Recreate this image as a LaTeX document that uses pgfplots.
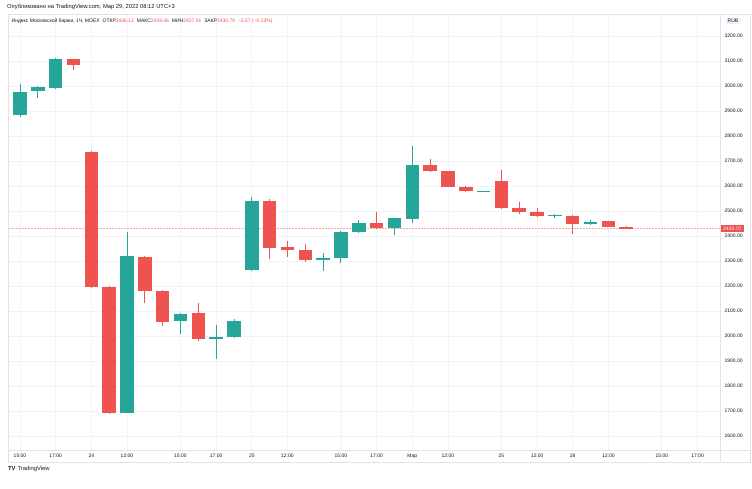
\documentclass[border=0pt]{standalone}
\usepackage{fontspec}
\setmainfont{Liberation Sans}
\usepackage{pgfplots}
\pgfplotsset{compat=1.18}
\usepackage{pgfplotstable}

\definecolor{tvgreen}{HTML}{26A69A}
\definecolor{tvred}{HTML}{EF5350}
\definecolor{tvgrid}{HTML}{F0F3FA}
\definecolor{tvborder}{HTML}{E0E3EB}
\definecolor{tvtext}{HTML}{131722}

\pgfplotstableread{
i o h l c
0 2885 3007 2875 2977
1 2979 3000 2951 2995
2 2992 3111 2988 3107
6 1693 2415 1690 2320
9 2059 2090 2008 2089
11 1991 2045 1909 1996
12 1995 2067 1993 2060
13 2263 2555 2260 2541
17 2303 2332 2259 2312
18 2311 2418 2291 2415
19 2415 2464 2413 2452
21 2431 2473 2405 2471
22 2467 2760 2451 2684
26 2578 2581 2577 2580
30 2480 2489 2473 2485
32 2447 2464 2445 2457
}\greendata

\pgfplotstableread{
i o h l c
3 3107 3109 3064 3084
4 2735 2740 2193 2197
5 2197 2199 1687 1693
7 2317 2320 2133 2181
8 2181 2183 2040 2057
10 2091 2132 1981 1987
14 2539 2547 2309 2352
15 2355 2380 2317 2343
16 2343 2368 2296 2303
20 2452 2495 2428 2431
23 2684 2708 2657 2659
24 2659 2661 2595 2597
25 2597 2599 2577 2580
27 2620 2664 2507 2513
28 2513 2536 2488 2495
29 2497 2513 2477 2480
31 2480 2482 2409 2447
33 2459 2461 2434 2436
34 2436.12 2438.46 2427.01 2430.70
}\reddata

\newcommand{\tvsmall}{\fontsize{5}{6}\selectfont}
\newcommand{\tvhead}{\fontsize{5.8}{7}\selectfont}

\begin{document}
\begin{tikzpicture}
\fill[white] (0pt,0pt) rectangle (752pt,489pt);
\begin{axis}[
  at={(8pt,39pt)}, anchor=south west, scale only axis,
  width=712pt, height=436pt,
  xmin=-0.673, xmax=39.26, ymin=1544, ymax=3288,
  axis line style={draw=none},
  major tick length=0pt,
  clip=false,
  grid=major,
  major grid style={tvgrid, line width=0.8pt},
  ytick={1600,1700,...,3200},
  yticklabel pos=right,
  yticklabel style={anchor=west, xshift=1pt, /pgf/number format/.cd, fixed, fixed zerofill, precision=2, 1000 sep={}},
  xtick={0,2,4,6,9,11,13,15,18,20,22,24,27,29,31,33,36,38},
  xticklabels={15:00,17:00,24,12:00,15:00,17:00,25,12:00,15:00,17:00,Мар,12:00,25,12:00,28,12:00,15:00,17:00},
  xticklabel style={yshift=-0.5pt},
  tick label style={font=\tvsmall, text=tvtext},
  /pgf/number format/assume math mode=true,
]
% price line
\addplot[tvred!50, densely dotted, line width=0.5pt] coordinates {(-0.673,2430.7) (39.26,2430.7)};
% wicks
\addplot[draw=none, mark=none, error bars/.cd, y dir=both, y explicit, error mark=none,
  error bar style={draw=tvgreen, line width=0.9pt}]
  table[x=i, y expr={(\thisrow{h}+\thisrow{l})/2}, y error expr={(\thisrow{h}-\thisrow{l})/2}] {\greendata};
\addplot[draw=none, mark=none, error bars/.cd, y dir=both, y explicit, error mark=none,
  error bar style={draw=tvred, line width=0.9pt}]
  table[x=i, y expr={(\thisrow{h}+\thisrow{l})/2}, y error expr={(\thisrow{h}-\thisrow{l})/2}] {\reddata};
% bodies
\addplot[draw=none, mark=none, error bars/.cd, y dir=both, y explicit, error mark=none,
  error bar style={draw=tvgreen, line width=13.5pt}]
  table[x=i, y expr={(\thisrow{o}+\thisrow{c})/2}, y error expr={max(abs(\thisrow{c}-\thisrow{o})/2,2)}] {\greendata};
\addplot[draw=none, mark=none, error bars/.cd, y dir=both, y explicit, error mark=none,
  error bar style={draw=tvred, line width=13.5pt}]
  table[x=i, y expr={(\thisrow{o}+\thisrow{c})/2}, y error expr={max(abs(\thisrow{c}-\thisrow{o})/2,2)}] {\reddata};
\node[fill=tvred, text=white, anchor=west, inner sep=0.8pt, minimum width=24pt, minimum height=6.5pt, font=\tvsmall] at (axis cs:39.26,2430.7) {2430.70};
\end{axis}
% frame
\draw[tvborder, line width=0.6pt] (8pt,27pt) rectangle (750pt,475pt);
\draw[tvborder, line width=0.6pt] (720pt,27pt) -- (720pt,475pt);
\draw[tvborder, line width=0.6pt] (8pt,39pt) -- (750pt,39pt);
% header
\node[anchor=west, inner sep=0pt, font=\tvhead, text=tvtext] at (7pt,482pt) {Опубликовано на TradingView.com, Мар 29, 2022 08:12 UTC+3};
\node[anchor=west, inner sep=0pt, font=\tvsmall, text=tvtext] at (11.5pt,468.3pt) {Индекс Московской биржи, 1Ч, MOEX\hspace{3pt}ОТКР\textcolor{tvred}{2436.12}\hspace{3pt}МАКС\textcolor{tvred}{2438.46}\hspace{3pt}МИН\textcolor{tvred}{2427.01}\hspace{3pt}ЗАКР\textcolor{tvred}{2430.70}\hspace{3pt}\textcolor{tvred}{−5.57 (−0.23\%)}};
\node[draw=tvborder, fill=tvgrid, rounded corners=1pt, inner sep=1pt, font=\tvsmall, text=tvtext] at (733pt,468pt) {RUB};
\node[anchor=west, inner sep=0pt, font=\tvhead, text=tvtext] at (8pt,20pt) {\textbf{TV}\hspace{2pt}TradingView};
\end{tikzpicture}
\end{document}
